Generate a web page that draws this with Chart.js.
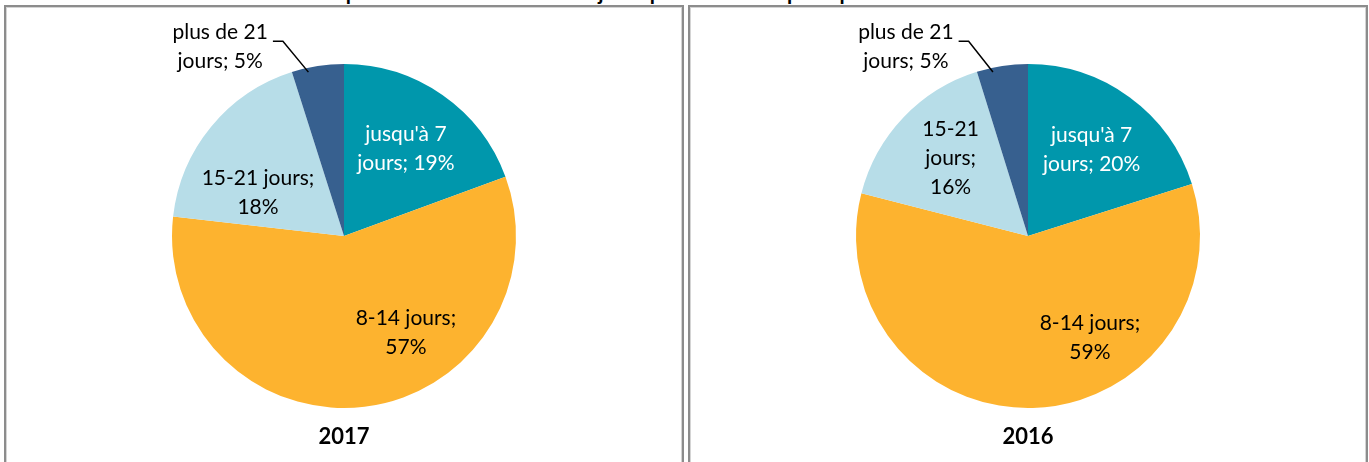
<!DOCTYPE html>
<html>
<head>
<meta charset="utf-8">
<script src="https://cdn.jsdelivr.net/npm/chart.js@4/dist/chart.umd.min.js"></script>
<style>
  body { margin: 0; width: 1369px; height: 462px; overflow: hidden; background: #fff; position: relative; font-family: Lato, sans-serif; }
  .panel { position: absolute; top: 5px; width: 680px; height: 480px; box-sizing: border-box; border: 2px solid #8c8c8c; box-shadow: inset 0 0 0 1px #d4d4d4; }
  #title { position: absolute; left: 0; width: 1369px; top: -21px; text-align: center; font: bold 21px Lato, sans-serif; color: #000; }
  canvas { position: absolute; top: 0; }
</style>
</head>
<body>
<div id="title">Répartition de la durée des séjours pour vacances principales d'hiver en Suisse</div>
<div class="panel" style="left:4px"></div>
<div class="panel" style="left:688px"></div>
<canvas id="c2017" width="688" height="462" style="left:0px"></canvas>
<canvas id="c2016" width="688" height="462" style="left:684px"></canvas>
<script>
// categories and shares (%)
const categories = ["jusqu'à 7 jours", '8-14 jours', '15-21 jours', 'plus de 21 jours'];
const values2017 = [19.4, 57.4, 18.3, 4.9];
const values2016 = [20.1, 58.9, 16.2, 4.8];
const colors = ['#0097ac', '#fdb32f', '#b7dde8', '#37608f'];

// draws the Excel-like labels "catégorie; xx%" and the year under each pie
const sliceLabels = {
  id: 'sliceLabels',
  afterDatasetsDraw(chart, args, opts) {
    const ctx = chart.ctx;
    const meta = chart.getDatasetMeta(0);
    const data = chart.data.datasets[0].data;
    const arc0 = meta.data[0];
    const cx = arc0.x, cy = arc0.y, r = arc0.outerRadius;
    ctx.save();
    ctx.font = '21px Lato, sans-serif';
    ctx.textAlign = 'center';
    ctx.textBaseline = 'middle';
    meta.data.forEach((arc, i) => {
      const text = chart.data.labels[i] + '; ' + Math.round(data[i]) + '%';
      // greedy word wrap
      const words = text.split(' ');
      const lines = [];
      let cur = '';
      words.forEach(w => {
        const t = cur ? cur + ' ' + w : w;
        if (cur && ctx.measureText(t).width > opts.wrap[i]) { lines.push(cur); cur = w; } else { cur = t; }
      });
      lines.push(cur);
      const lx = cx + opts.pos[i][0] * r;
      const ly = cy + opts.pos[i][1] * r;
      const lh = 29;
      const y0 = ly - (lines.length - 1) * lh / 2;
      ctx.fillStyle = opts.textColors[i];
      lines.forEach((l, k) => ctx.fillText(l, lx, y0 + k * lh));
      if (opts.leader[i]) {
        // leader line from end of first line to the slice edge
        const w0 = ctx.measureText(lines[0]).width;
        const sx = lx + w0 / 2 + 5, sy = y0 + 9;
        const mid = (arc.startAngle + arc.endAngle) / 2;
        const ex = cx + Math.cos(mid) * r * 0.97 - 10;
        const ey = cy + Math.sin(mid) * r * 0.97 + 1;
        ctx.strokeStyle = '#000';
        ctx.lineWidth = 1.5;
        ctx.beginPath();
        ctx.moveTo(sx, sy);
        ctx.lineTo(sx + 10, sy);
        ctx.lineTo(ex, ey);
        ctx.stroke();
      }
    });
    ctx.font = 'bold 22px Lato, sans-serif';
    ctx.fillStyle = '#000';
    ctx.fillText(opts.year, cx, chart.chartArea.bottom + 29);
    ctx.restore();
  }
};

function makePie(id, values, year, pos, wrap) {
  return new Chart(document.getElementById(id), {
    type: 'pie',
    data: {
      labels: categories,
      datasets: [{ data: values, backgroundColor: colors, borderWidth: 0 }]
    },
    options: {
      responsive: false,
      animation: false,
      devicePixelRatio: 1,
      layout: { padding: { left: 172, right: 172, top: 64, bottom: 54 } },
      plugins: {
        legend: { display: false },
        tooltip: { enabled: false },
        sliceLabels: {
          year: year,
          pos: pos,
          wrap: wrap,
          textColors: ['#fff', '#000', '#000', '#000'],
          leader: [false, false, false, true]
        }
      }
    },
    plugins: [sliceLabels]
  });
}

makePie('c2017', values2017, '2017',
  [[0.36, -0.51], [0.36, 0.56], [-0.50, -0.25], [-0.72, -1.10]],
  [115, 118, 130, 110]);
makePie('c2016', values2016, '2016',
  [[0.37, -0.50], [0.36, 0.59], [-0.45, -0.45], [-0.71, -1.10]],
  [115, 118, 65, 110]);
</script>
</body>
</html>
